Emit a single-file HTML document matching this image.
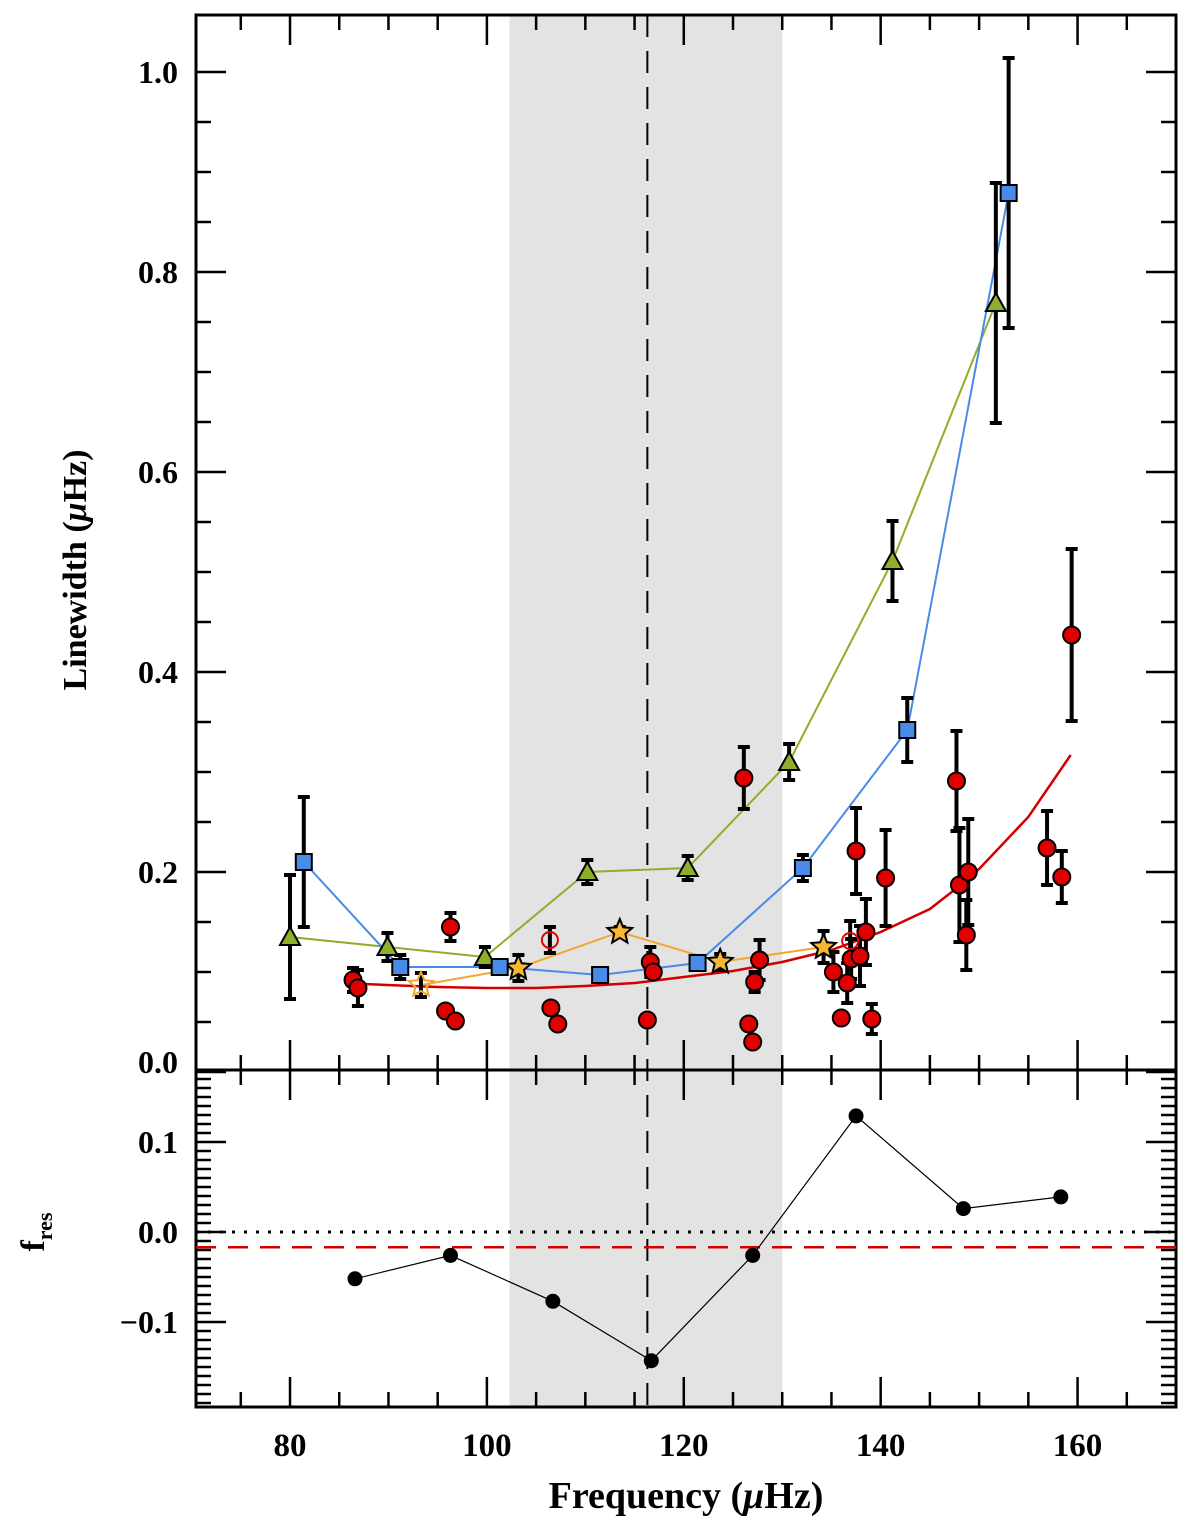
<!DOCTYPE html>
<html><head><meta charset="utf-8"><style>
html,body{margin:0;padding:0;background:#fff;}
svg{display:block;}
text{font-family:"Liberation Serif",serif;font-weight:bold;fill:#000;}
</style></head><body>
<svg id="chart" width="1200" height="1529" viewBox="0 0 1200 1529" xmlns="http://www.w3.org/2000/svg"></svg>
<script>
const greenX=[80,89.9,99.8,110.2,120.4,130.7,141.2,151.7];
const greenY=[0.135,0.125,0.115,0.2,0.204,0.31,0.511,0.769];
const greenE=[0.062,0.014,0.01,0.012,0.012,0.018,0.04,0.12];
const blueX=[81.4,91.2,101.3,111.5,121.4,132.1,142.7,153];
const blueY=[0.21,0.105,0.105,0.097,0.109,0.204,0.342,0.879];
const blueE=[0.065,0.012,0.005,0,0.005,0.013,0.032,0.135];
const starX=[93.3,103.2,113.5,123.7,134.2];
const starY=[0.087,0.104,0.14,0.11,0.125];
const starE=[0.012,0.013,0.005,0.008,0.016];
const openX=[106.4,136.9];
const openY=[0.132,0.131];
const openE=[0.013,0.02];
const redX=[86.4,86.9,95.8,96.3,96.8,106.5,107.2,116.3,116.6,116.9,126.1,126.6,127,127.2,127.7,135.2,136,136.6,137,137.5,137.9,138.5,139.1,140.5,147.7,148,148.7,148.9,156.9,158.4,159.4];
const redY=[0.092,0.084,0.061,0.145,0.051,0.064,0.048,0.052,0.11,0.1,0.294,0.048,0.03,0.09,0.112,0.1,0.054,0.089,0.113,0.221,0.116,0.14,0.053,0.194,0.291,0.187,0.137,0.2,0.224,0.195,0.437];
const redE=[0.012,0.018,0,0.014,0,0,0,0,0.015,0,0.031,0,0,0.01,0.02,0.02,0,0.02,0.02,0.043,0.03,0.033,0.015,0.048,0.05,0.057,0.035,0.053,0.037,0.026,0.086];
const fitX=[87.5,95,100,105,110,115,120,125,130,135,140,145,148,150,155,159.3];
const fitY=[0.088,0.085,0.084,0.084,0.086,0.089,0.095,0.101,0.11,0.122,0.14,0.163,0.186,0.203,0.255,0.317];
const resX=[86.6,96.3,106.7,116.7,127,137.5,148.4,158.3];
const resY=[-0.052,-0.026,-0.077,-0.143,-0.026,0.129,0.026,0.039];
const xTicks=[80,100,120,140,160];
const yTicksTop=[0.0,0.2,0.4,0.6,0.8,1.0];
const yTicksBot=[-0.1,0.0,0.1];
const shadeRange=[102.3,130.0];
const numaxLine=116.3;
const resOffset=-0.017;

const L=196,R=1176,T=15,M=1070,B=1407;
const X0=70.45,X1=170.0;
const sx=v=>L+(v-X0)/(X1-X0)*(R-L);
const syT=v=>1072-v*1000;
const syB=v=>1232-v*900;
const svg=document.getElementById('chart');
const NS='http://www.w3.org/2000/svg';
function mk(tag,attrs,parent){const e=document.createElementNS(NS,tag);for(const k in attrs)e.setAttribute(k,attrs[k]);(parent||svg).appendChild(e);return e;}

let g;
g=mk('rect',{x:sx(shadeRange[0]),y:T,width:sx(shadeRange[1])-sx(shadeRange[0]),height:B-T,fill:'#e3e3e3'});


g=mk('line',{x1:sx(numaxLine),x2:sx(numaxLine),y1:T,y2:B,stroke:'#000','stroke-width':2,'stroke-dasharray':'22,14'});



// ticks
const tk=mk('g',{stroke:'#000','stroke-width':2.5});


for(let v=75;v<=170;v+=5){const x=sx(v);const maj=(v%20===0);const len=maj?30:15;
 [[M,-1],[T,1],[B,-1],[M,1]].forEach(([y,d])=>mk('line',{x1:x,x2:x,y1:y,y2:y+d*len},tk));}
for(let v=0;v<=1.05;v+=0.05){const y=syT(v);if(y<T)continue;const maj=Math.abs((v*10)%2)<0.01||Math.abs((v*10)%2-2)<0.01;const len=maj?30:15;
 mk('line',{x1:L,x2:L+len,y1:y,y2:y},tk);mk('line',{x1:R,x2:R-len,y1:y,y2:y},tk);}
for(let i=-19;i<=18;i++){const v=i/100;const y=syB(v);if(y>B||y<M)continue;const maj=(i%10===0);const len=maj?30:15;
 mk('line',{x1:L,x2:L+len,y1:y,y2:y},tk);mk('line',{x1:R,x2:R-len,y1:y,y2:y},tk);}

// frame
g=mk('rect',{x:L,y:T,width:R-L,height:B-T,fill:'none',stroke:'#000','stroke-width':3});


g=mk('line',{x1:L,x2:R,y1:M,y2:M,stroke:'#000','stroke-width':3});



// tick labels
xTicks.forEach(v=>{const t=mk('text',{x:sx(v),y:1456,'font-size':33,'text-anchor':'middle'});t.textContent=v;
 
 });
yTicksTop.forEach(v=>{let y=syT(v)+11;if(v===0)y-=10;const t=mk('text',{x:178,y:y,'font-size':32,'text-anchor':'end'});t.textContent=v.toFixed(1);
 
 });
yTicksBot.forEach(v=>{const t=mk('text',{x:178,y:syB(v)+11,'font-size':32,'text-anchor':'end'});t.textContent=(v<0?'\u2212':'')+Math.abs(v).toFixed(1);
 
 });

let t=mk('text',{x:0,y:0,'font-size':34,'text-anchor':'middle',transform:'translate(86,570) rotate(-90)'});
t.innerHTML='Linewidth (<tspan font-style="italic">μ</tspan>Hz)';


t=mk('text',{x:0,y:0,'font-size':34,'text-anchor':'middle',transform:'translate(44,1232) rotate(-90)'});
t.innerHTML='f<tspan font-size="22" dy="8">res</tspan>';


t=mk('text',{x:686,y:1508,'font-size':38,'text-anchor':'middle'});
t.innerHTML='Frequency (<tspan font-style="italic">μ</tspan>Hz)';



function path(xs,ys,fy){return xs.map((v,i)=>(i?'L':'M')+sx(v).toFixed(1)+','+fy(ys[i]).toFixed(1)).join(' ');}
function errbars(xs,ys,es,name){const eg=mk('g',{stroke:'#000','stroke-width':4});
 
 
 xs.forEach((v,i)=>{if(!es[i])return;const x=sx(v),y1=syT(ys[i]-es[i]),y2=syT(ys[i]+es[i]);
  mk('line',{x1:x,x2:x,y1:y1,y2:y2},eg);mk('line',{x1:x-6,x2:x+6,y1:y1,y2:y1},eg);mk('line',{x1:x-6,x2:x+6,y1:y2,y2:y2},eg);});}

// lines
g=mk('path',{d:path(fitX,fitY,syT),fill:'none',stroke:'#d40000','stroke-width':2.5});


g=mk('path',{d:path(greenX,greenY,syT),fill:'none',stroke:'#8fae2a','stroke-width':2});


g=mk('path',{d:path(blueX,blueY,syT),fill:'none',stroke:'#4a8ae8','stroke-width':2});


g=mk('path',{d:path(starX,starY,syT),fill:'none',stroke:'#f0a830','stroke-width':2});



errbars(redX,redY,redE,'red-error-bars');
errbars(openX,openY,openE,'open-error-bars');
errbars(starX,starY,starE,'star-error-bars');
errbars(greenX,greenY,greenE,'green-error-bars');
errbars(blueX,blueY,blueE,'blue-error-bars');

redX.forEach((v,i)=>{const c=mk('circle',{cx:sx(v),cy:syT(redY[i]),r:8.5,fill:'#e00000',stroke:'#000','stroke-width':2});
 
 });
openX.forEach((v,i)=>{const c=mk('circle',{cx:sx(v),cy:syT(openY[i]),r:8,fill:'none',stroke:'#e00000','stroke-width':2});
 
 });
function starPts(cx,cy,r){let p=[];for(let k=0;k<10;k++){const a=-Math.PI/2+k*Math.PI/5;const rr=k%2?r*0.45:r;p.push((cx+rr*Math.cos(a)).toFixed(1)+','+(cy+rr*Math.sin(a)).toFixed(1));}return p.join(' ');}
starX.forEach((v,i)=>{const s=mk('polygon',{points:starPts(sx(v),syT(starY[i]),13),fill:i===0?'none':'#f7b733',stroke:i===0?'#f0a830':'#000','stroke-width':2});
 
 });
greenX.forEach((v,i)=>{const x=sx(v),y=syT(greenY[i]);const p=mk('polygon',{points:`${x},${y-10} ${x-10},${y+8} ${x+10},${y+8}`,fill:'#8fae2a',stroke:'#000','stroke-width':2});
 
 });
blueX.forEach((v,i)=>{const r=mk('rect',{x:sx(v)-8,y:syT(blueY[i])-8,width:16,height:16,fill:'#4a8ae8',stroke:'#000','stroke-width':2});
 
 });

// residual panel
g=mk('line',{x1:L,x2:R,y1:syB(0),y2:syB(0),stroke:'#000','stroke-width':3,'stroke-dasharray':'3,9'});


g=mk('line',{x1:L,x2:R,y1:syB(resOffset),y2:syB(resOffset),stroke:'#d40000','stroke-width':2.5,'stroke-dasharray':'20,12'});


g=mk('path',{d:path(resX,resY,syB),fill:'none',stroke:'#000','stroke-width':1.2});


resX.forEach((v,i)=>{const c=mk('circle',{cx:sx(v),cy:syB(resY[i]),r:7.5,fill:'#000'});
 
 });
</script>
</body></html>
